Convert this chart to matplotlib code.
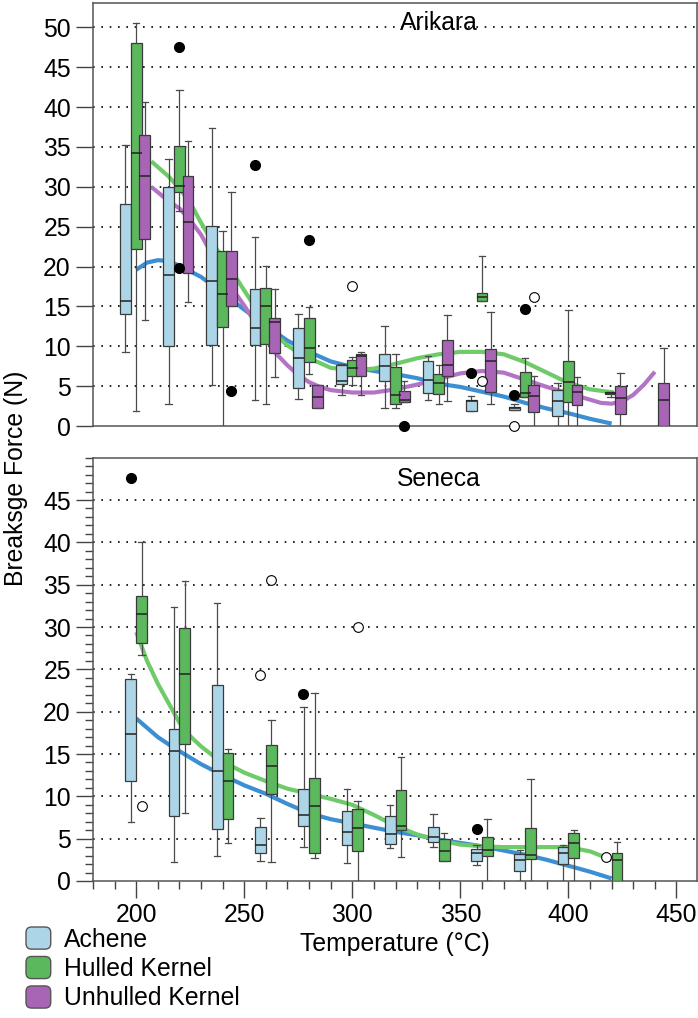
import numpy as np
import matplotlib
matplotlib.use("Agg")
import matplotlib.pyplot as plt
from matplotlib.patches import Patch, FancyBboxPatch
from matplotlib.legend_handler import HandlerPatch
from matplotlib.ticker import MultipleLocator

plt.rcParams['font.family'] = ['Liberation Sans', 'DejaVu Sans']
FS = 17.8

# colours
ACH = '#acd6e8'
HUL = '#5cb85c'
UNH = '#a865b5'
ACH_FIT = '#3d8fd3'
HUL_FIT = '#6fcb6a'
UNH_FIT = '#b474c6'

# ---- Arikara (top) box stats ----
ari_ach_pos = [195, 215, 235, 255, 275, 295, 315, 335, 355, 375, 395]
ari_ach_lo = [9.3, 2.7, 5.2, 3.3, 3.4, 3.9, 2.3, 3.3, 1.9, 2.0, 0.0]
ari_ach_q1 = [14.1, 10.0, 10.2, 10.1, 4.8, 5.3, 5.6, 4.2, 1.9, 2.0, 1.2]
ari_ach_med = [15.7, 19.0, 18.2, 12.3, 8.5, 5.7, 7.5, 5.8, 3.1, 2.3, 3.1]
ari_ach_q3 = [27.9, 30.0, 25.1, 17.2, 12.3, 7.6, 9.0, 8.1, 3.3, 2.4, 4.5]
ari_ach_hi = [35.2, 33.5, 37.4, 23.7, 14.0, 7.8, 12.5, 8.8, 3.8, 2.8, 5.4]

ari_hul_pos = [200, 220, 240, 260, 280, 300, 320, 340, 360, 380, 400, 419.5]
ari_hul_lo = [1.9, 27.0, 0.0, 2.8, 6.5, 5.1, 2.2, 2.7, 15.7, 3.6, 0.0, 3.7]
ari_hul_q1 = [22.2, 29.4, 12.4, 10.3, 8.0, 6.3, 2.8, 4.0, 15.7, 3.6, 3.0, 4.0]
ari_hul_med = [34.3, 30.1, 16.6, 15.1, 9.8, 7.3, 3.9, 5.4, 16.2, 4.2, 5.5, 4.1]
ari_hul_q3 = [48.1, 35.1, 21.9, 17.3, 13.5, 8.3, 7.4, 6.5, 16.7, 6.8, 8.2, 4.3]
ari_hul_hi = [50.6, 42.2, 24.5, 20.1, 14.9, 8.7, 9.0, 7.7, 21.3, 8.5, 14.5, 4.3]

ari_unh_pos = [204, 224, 244, 264, 284, 304, 324, 344, 364, 384, 404, 424, 444]
ari_unh_lo = [13.3, 15.5, 15.1, 6.1, 2.3, 3.9, 3.0, 3.1, 2.8, 0.0, 0.0, 0.0, 0.0]
ari_unh_q1 = [23.4, 19.2, 15.1, 9.2, 2.3, 6.3, 3.0, 6.3, 4.3, 1.7, 2.6, 1.5, 0.0]
ari_unh_med = [31.3, 25.6, 18.4, 13.1, 3.7, 8.8, 3.3, 7.7, 8.2, 3.8, 4.3, 3.5, 3.2]
ari_unh_q3 = [36.5, 31.4, 21.9, 13.5, 5.2, 9.0, 4.4, 10.8, 9.6, 5.1, 5.2, 5.0, 5.4]
ari_unh_hi = [40.6, 35.7, 29.4, 17.2, 5.2, 9.3, 5.6, 13.9, 14.3, 6.3, 6.2, 6.7, 9.8]

ari_out_fill_t = [220, 220, 244, 255, 280, 324, 355, 375, 380]
ari_out_fill_y = [47.6, 19.8, 4.4, 32.7, 23.3, 0.0, 6.7, 3.9, 14.7]
ari_out_open_t = [300, 360, 375, 384]
ari_out_open_y = [17.5, 5.6, 0.0, 16.2]

# fitted curves
ari_ach_fit_t = [200, 205, 210, 215, 220, 230, 240, 250, 260, 270, 280, 290, 300,
                 310, 320, 330, 340, 350, 360, 370, 380, 390, 400, 410, 420]
ari_ach_fit_y = [19.6, 20.5, 20.8, 20.7, 20.1, 18.7, 16.7, 14.6, 12.6, 10.7, 9.3, 8.1, 7.4,
                 6.9, 6.5, 6.0, 5.3, 4.9, 4.3, 3.7, 2.9, 2.2, 1.6, 0.9, 0.3]
ari_hul_fit_t = [207, 215, 220, 225, 230, 235, 240, 245, 250, 255, 260, 265, 270, 275,
                 280, 290, 300, 310, 320, 330, 340, 350, 360, 370, 380, 390, 400, 410, 421]
ari_hul_fit_y = [33.2, 31.3, 29.8, 28.0, 25.5, 23.2, 21.0, 19.1, 17.0, 14.9, 13.0, 11.3, 10.1, 9.2,
                 8.5, 7.3, 7.0, 7.2, 7.8, 8.5, 9.0, 9.3, 9.3, 9.0, 8.0, 6.7, 5.4, 4.6, 4.2]
ari_unh_fit_t = [207, 215, 220, 225, 230, 235, 240, 245, 250, 255, 260, 265, 270, 275, 280,
                 285, 290, 300, 310, 320, 330, 340, 350, 360, 370, 380, 390, 400, 410, 415,
                 420, 425, 430, 435, 440]
ari_unh_fit_y = [30.0, 28.2, 27.3, 25.8, 24.0, 21.5, 19.2, 17.0, 15.1, 13.0, 11.0, 9.0, 7.6, 6.4, 5.5,
                 4.9, 4.5, 4.2, 4.2, 4.6, 5.2, 5.9, 6.6, 6.9, 6.7, 5.8, 4.9, 4.1, 3.3, 2.9,
                 2.8, 3.1, 3.9, 5.2, 6.8]

# ---- Seneca (bottom) box stats ----
sen_ach_pos = [197.5, 217.5, 237.5, 257.5, 277.5, 297.5, 317.5, 337.5, 357.5, 377.5, 397.5]
sen_ach_lo = [7.0, 2.2, 2.9, 2.4, 4.0, 2.1, 3.9, 4.0, 1.9, 0.0, 0.0]
sen_ach_q1 = [11.8, 7.7, 6.2, 3.3, 6.5, 4.2, 4.4, 4.6, 2.4, 1.2, 2.0]
sen_ach_med = [17.4, 15.3, 13.0, 4.3, 7.8, 5.8, 5.6, 5.2, 3.3, 2.5, 3.3]
sen_ach_q3 = [23.9, 17.9, 23.2, 6.4, 10.9, 8.3, 7.7, 6.4, 3.8, 3.2, 4.0]
sen_ach_hi = [24.4, 32.4, 32.8, 7.4, 20.6, 10.9, 9.0, 7.9, 4.3, 3.7, 4.2]

sen_hul_pos = [202.5, 222.5, 242.5, 262.5, 282.5, 302.5, 322.5, 342.5, 362.5, 382.5, 402.5, 422.5]
sen_hul_lo = [26.7, 8.0, 4.5, 2.2, 2.7, 0.0, 2.8, 2.4, 0.0, 0.0, 0.0, 0.0]
sen_hul_q1 = [28.1, 16.2, 7.3, 10.3, 3.3, 3.5, 6.0, 2.4, 2.9, 2.6, 2.7, 0.0]
sen_hul_med = [31.5, 24.5, 11.8, 13.6, 8.8, 6.3, 6.5, 3.5, 3.7, 3.1, 4.5, 2.5]
sen_hul_q3 = [33.7, 29.9, 15.1, 16.1, 12.2, 8.5, 10.7, 5.0, 5.2, 6.3, 5.7, 3.3]
sen_hul_hi = [40.1, 35.4, 15.6, 19.0, 22.2, 9.4, 14.6, 5.7, 7.3, 12.0, 6.0, 4.6]

sen_out_fill_t = [197.7, 277.3, 357.7]
sen_out_fill_y = [47.6, 22.1, 6.1]
sen_out_open_t = [202.6, 257.5, 262.6, 302.5, 417.5]
sen_out_open_y = [8.9, 24.3, 35.5, 30.0, 2.8]

sen_ach_fit_t = [200, 210, 217, 230, 240, 250, 260, 270, 280, 290, 300, 310, 320,
                 330, 340, 350, 360, 370, 380, 390, 400, 410, 420]
sen_ach_fit_y = [19.2, 17.0, 15.8, 13.8, 12.5, 11.3, 10.3, 9.1, 8.0, 7.3, 6.8, 6.3, 5.8,
                 5.4, 4.9, 4.5, 4.1, 3.6, 3.1, 2.5, 1.8, 1.1, 0.3]
sen_hul_fit_t = [200, 205, 210, 215, 220, 225, 230, 235, 240, 250, 260, 270, 280, 290,
                 300, 310, 320, 330, 340, 350, 360, 370, 380, 390, 400, 410, 420]
sen_hul_fit_y = [29.4, 26.0, 23.3, 21.0, 18.7, 17.1, 15.9, 14.9, 14.1, 12.8, 11.8, 10.9, 10.3, 9.7,
                 9.0, 7.8, 6.5, 5.5, 4.8, 4.3, 4.1, 4.0, 4.0, 4.0, 4.0, 3.5, 2.5]

legend_labels = ['Achene', 'Hulled Kernel', 'Unhulled Kernel']


def draw_boxes(ax, pos, lo, q1, med, q3, hi, color):
    stats = [dict(whislo=a, q1=b, med=c, q3=d, whishi=e, fliers=[])
             for a, b, c, d, e in zip(lo, q1, med, q3, hi)]
    ax.bxp(stats, positions=pos, widths=5, capwidths=3, patch_artist=True,
           showfliers=False, manage_ticks=False, zorder=3,
           boxprops=dict(facecolor=color, edgecolor='#3a3a3a', linewidth=0.9),
           medianprops=dict(color='#222222', linewidth=1.1),
           whiskerprops=dict(color='#4a4a4a', linewidth=0.9),
           capprops=dict(color='#4a4a4a', linewidth=0.9))


def draw_outliers(ax, ft, fy, ot, oy):
    ax.plot(ft, fy, 'o', color='black', markersize=7, zorder=5, clip_on=False)
    ax.plot(ot, oy, 'o', markerfacecolor='white', markeredgecolor='black',
            markeredgewidth=0.8, markersize=7, zorder=5, clip_on=False)


def style_axis(ax, ytop):
    ax.set_xlim(180, 459.5)
    ax.set_ylim(0, ytop)
    for s in ax.spines.values():
        s.set_color('#555555')
        s.set_linewidth(1.1)
    ax.set_axisbelow(True)
    ax.tick_params(axis='both', which='major', length=12, width=1, color='#444444',
                   labelsize=FS, pad=4)
    ax.tick_params(axis='both', which='minor', length=6, width=1, color='#444444')


fig = plt.figure(figsize=(6.98, 10.18), dpi=100)
W, H = 698.0, 1018.0
ax1 = fig.add_axes([93 / W, 1 - 426 / H, 604 / W, (426 - 2.7) / H])
ax2 = fig.add_axes([93 / W, 1 - 881 / H, 604 / W, (881 - 457.7) / H])

# top panel
style_axis(ax1, 53.1)
ax1.set_yticks(np.arange(0, 51, 5))
ax1.set_xticks([])
for y in np.arange(5, 51, 5):
    ax1.axhline(y, color='black', linestyle=(0, (1, 4)), linewidth=1.2, zorder=1)
ax1.plot(ari_ach_fit_t, ari_ach_fit_y, color=ACH_FIT, lw=3, zorder=2, solid_capstyle='butt')
ax1.plot(ari_hul_fit_t, ari_hul_fit_y, color=HUL_FIT, lw=3, zorder=2, solid_capstyle='butt')
ax1.plot(ari_unh_fit_t, ari_unh_fit_y, color=UNH_FIT, lw=3, zorder=2, solid_capstyle='butt')
draw_boxes(ax1, ari_ach_pos, ari_ach_lo, ari_ach_q1, ari_ach_med, ari_ach_q3, ari_ach_hi, ACH)
draw_boxes(ax1, ari_hul_pos, ari_hul_lo, ari_hul_q1, ari_hul_med, ari_hul_q3, ari_hul_hi, HUL)
draw_boxes(ax1, ari_unh_pos, ari_unh_lo, ari_unh_q1, ari_unh_med, ari_unh_q3, ari_unh_hi, UNH)
draw_outliers(ax1, ari_out_fill_t, ari_out_fill_y, ari_out_open_t, ari_out_open_y)
ax1.text(340, 50.6, 'Arikara', ha='center', va='center', fontsize=FS, zorder=6)

# bottom panel
style_axis(ax2, 50)
ax2.set_yticks(np.arange(0, 46, 5))
ax2.yaxis.set_minor_locator(MultipleLocator(1))
ax2.set_xticks(np.arange(200, 451, 50))
ax2.xaxis.set_minor_locator(MultipleLocator(10))
for y in np.arange(5, 46, 5):
    ax2.axhline(y, color='black', linestyle=(0, (1, 4)), linewidth=1.2, zorder=1)
ax2.plot(sen_ach_fit_t, sen_ach_fit_y, color=ACH_FIT, lw=3, zorder=2, solid_capstyle='butt')
ax2.plot(sen_hul_fit_t, sen_hul_fit_y, color=HUL_FIT, lw=3, zorder=2, solid_capstyle='butt')
draw_boxes(ax2, sen_ach_pos, sen_ach_lo, sen_ach_q1, sen_ach_med, sen_ach_q3, sen_ach_hi, ACH)
draw_boxes(ax2, sen_hul_pos, sen_hul_lo, sen_hul_q1, sen_hul_med, sen_hul_q3, sen_hul_hi, HUL)
draw_outliers(ax2, sen_out_fill_t, sen_out_fill_y, sen_out_open_t, sen_out_open_y)
ax2.text(340, 47.5, 'Seneca', ha='center', va='center', fontsize=FS, zorder=6)

fig.text(394.5 / W, 1 - 944 / H, 'Temperature (°C)', ha='center', va='center', fontsize=FS)
fig.text(16 / W, 1 - 478 / H, 'Breaksge Force (N)', ha='center', va='center',
         rotation=90, fontsize=FS)


class RoundBoxHandler(HandlerPatch):
    def create_artists(self, legend, orig_handle, xdescent, ydescent, width, height,
                       fontsize, trans):
        p = FancyBboxPatch((-xdescent, -ydescent), width, height,
                           boxstyle='round,pad=0,rounding_size=4',
                           facecolor=orig_handle.get_facecolor(),
                           edgecolor='#555555', linewidth=1.0, transform=trans)
        return [p]


handles = [Patch(facecolor=c) for c in (ACH, HUL, UNH)]
fig.legend(handles, legend_labels, loc='upper left',
           bbox_to_anchor=(26 / W, 1 - 927 / H), frameon=False, fontsize=FS,
           borderpad=0, borderaxespad=0, handlelength=1.0, handleheight=1.0,
           handletextpad=0.55, labelspacing=0.2,
           handler_map={Patch: RoundBoxHandler()})

fig.savefig('out.png', dpi=100)
